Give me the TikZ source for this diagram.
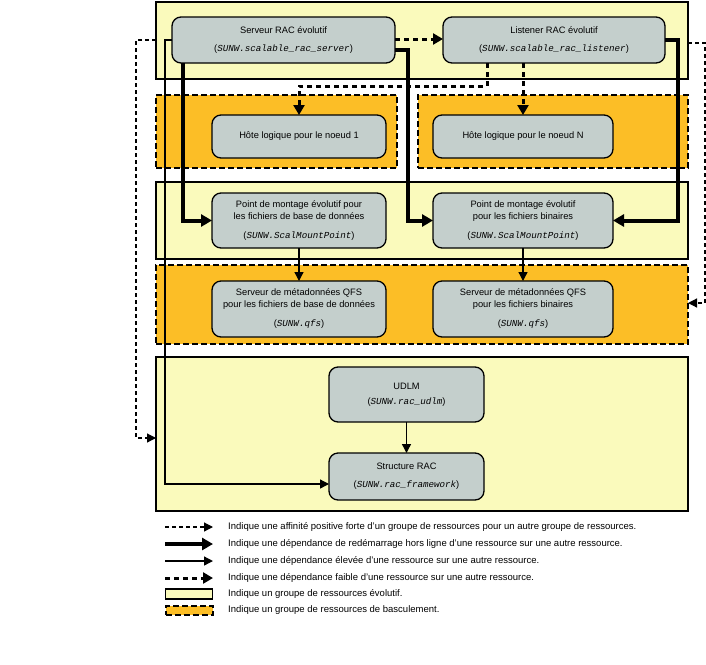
\documentclass[tikz,border=0pt]{standalone}
\usepackage{fontspec}
\setmainfont{Liberation Sans}
\newfontfamily\monofam{Liberation Mono}
\usetikzlibrary{arrows.meta,calc}
\definecolor{ylw}{RGB}{250,250,188}
\definecolor{org}{RGB}{252,190,38}
\definecolor{gry}{RGB}{196,207,204}
\newcommand{\sunw}[1]{{\fontsize{9.2}{12}\monofam\itshape #1}}
\tikzset{
  grp/.style={draw=black, line width=1.5pt, fill=ylw, inner sep=0pt, outer sep=0pt},
  fgrp/.style={draw=black, line width=1.5pt, fill=org, dash pattern=on 6pt off 3pt, inner sep=0pt, outer sep=0pt},
  res/.style={draw=black, line width=1.3pt, fill=gry, rounded corners=9pt, align=center,
    font=\fontsize{9.3}{12}\selectfont, inner sep=0pt, outer sep=0pt},
  affin/.style={line width=1.2pt, dash pattern=on 4pt off 3pt, -{Triangle[length=9pt,width=9pt]}},
  restart/.style={line width=4pt, -{Triangle[length=11pt,width=12pt]}},
  strong/.style={line width=1.3pt, -{Triangle[length=9pt,width=9pt]}},
  weak/.style={line width=3pt, dash pattern=on 5pt off 4pt, -{Triangle[length=10pt,width=11pt]}},
  legtext/.style={anchor=west, font=\fontsize{9.5}{11}\selectfont, inner sep=0pt},
}
\begin{document}
\begin{tikzpicture}[x=1pt,y=-1pt]
\useasboundingbox (0,0) rectangle (706,664);
% groups
\node[grp, minimum width=532, minimum height=77] (g1) at (422,40.5) {};
\node[fgrp, minimum width=241, minimum height=73] (g2a) at (276.5,131.5) {};
\node[fgrp, minimum width=270, minimum height=73] (g2b) at (553,131.5) {};
\node[grp, minimum width=532, minimum height=77] (g3) at (422,220.5) {};
\node[fgrp, minimum width=532, minimum height=79] (g4) at (422,304.5) {};
\node[grp, minimum width=532, minimum height=154] (g5) at (422,434) {};
% resources
\node[res, minimum width=223, minimum height=46] (serveur) at (283.5,40) {Serveur RAC évolutif\\[6pt](\sunw{SUNW.scalable\_rac\_server})};
\node[res, minimum width=222, minimum height=46] (listener) at (554,40) {Listener RAC évolutif\\[6pt](\sunw{SUNW.scalable\_rac\_listener})};
\node[res, minimum width=174, minimum height=43] (hote1) at (299,136.5) {Hôte logique pour le noeud 1};
\node[res, minimum width=180, minimum height=43] (hoteN) at (523,136.5) {Hôte logique pour le noeud N};
\node[res, minimum width=174, minimum height=55] (mountdb) at (299,220.5) {Point de montage évolutif pour\\les fichiers de base de données\\[7pt](\sunw{SUNW.ScalMountPoint})};
\node[res, minimum width=180, minimum height=55] (mountbin) at (523,220.5) {Point de montage évolutif\\pour les fichiers binaires\\[7pt](\sunw{SUNW.ScalMountPoint})};
\node[res, minimum width=174, minimum height=56] (qfsdb) at (299,309) {Serveur de métadonnées QFS\\pour les fichiers de base de données\\[7pt](\sunw{SUNW.qfs})};
\node[res, minimum width=180, minimum height=56] (qfsbin) at (523,309) {Serveur de métadonnées QFS\\pour les fichiers binaires\\[7pt](\sunw{SUNW.qfs})};
\node[res, minimum width=155, minimum height=55] (udlm) at (406.5,394.5) {UDLM\\[3pt](\sunw{SUNW.rac\_udlm})};
\node[res, minimum width=155, minimum height=47] (struct) at (406.5,476.5) {Structure RAC\\[6pt](\sunw{SUNW.rac\_framework})};
% connectors
\coordinate (k1) at (165,40);
\coordinate (k2) at (136,40);
\coordinate (k3) at (705,43);
\coordinate (k4) at (408,50);
\coordinate (k5) at (678,40);
\coordinate (k6) at (487,86);
\draw[strong] (serveur.west) -- (k1) |- (struct.west |- 0,484);
\draw[affin] (g1.west |- k2) -- (k2) |- (g5.west |- 0,438);
\draw[affin] (g1.east |- k3) -- (k3) |- (g4.east |- 0,303);
\draw[restart] (serveur.south -| 183,0) |- (mountdb.west);
\draw[restart] (serveur.east |- k4) -- (k4) |- (mountbin.west);
\draw[restart] (listener.east |- k5) -- (k5) |- (mountbin.east);
\draw[weak] (serveur.east |- 0,39) -- (listener.west |- 0,39);
\draw[weak] (listener.south -| k6) -- (k6) -| (hote1.north);
\draw[weak] (listener.south -| hoteN.north) -- (hoteN.north);
\draw[strong] (mountdb.south) -- (qfsdb.north);
\draw[strong] (mountbin.south) -- (qfsbin.north);
\draw[strong] (udlm.south) -- (struct.north);
% legend
\coordinate (la1) at (165,527); \coordinate (lb1) at (213,527);
\coordinate (la2) at (165,544); \coordinate (lb2) at (213,544);
\coordinate (la3) at (165,561); \coordinate (lb3) at (213,561);
\coordinate (la4) at (165,578); \coordinate (lb4) at (213,578);
\draw[affin] (la1) -- (lb1);
\draw[restart] (la2) -- (lb2);
\draw[strong] (la3) -- (lb3);
\draw[weak] (la4) -- (lb4);
\node[grp, line width=1.3pt, minimum width=47, minimum height=10] (lr1) at (189,594) {};
\node[fgrp, line width=2pt, dash pattern=on 6pt off 3pt, minimum width=47, minimum height=9] (lr2) at (189,610.5) {};
\node[legtext] (t1) at (228,527) {Indique une affinité positive forte d'un groupe de ressources pour un autre groupe de ressources.};
\node[legtext] (t2) at (228,544) {Indique une dépendance de redémarrage hors ligne d'une ressource sur une autre ressource.};
\node[legtext] (t3) at (228,561) {Indique une dépendance élevée d'une ressource sur une autre ressource.};
\node[legtext] (t4) at (228,578) {Indique une dépendance faible d'une ressource sur une autre ressource.};
\node[legtext] (t5) at (228,594) {Indique un groupe de ressources évolutif.};
\node[legtext] (t6) at (228,610.5) {Indique un groupe de ressources de basculement.};
\end{tikzpicture}
\end{document}
